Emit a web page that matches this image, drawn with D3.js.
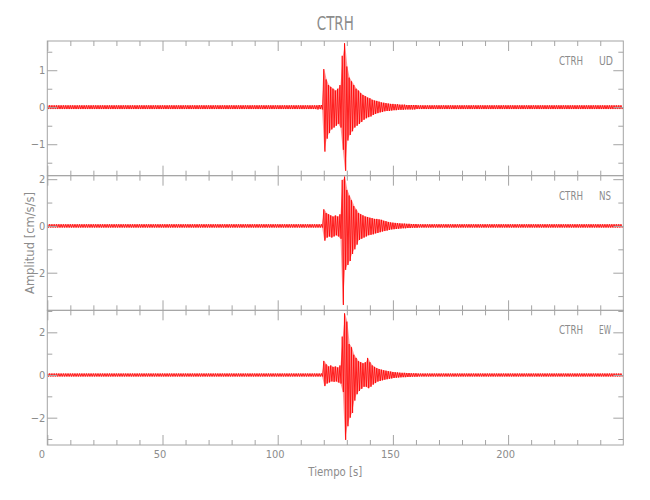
<!DOCTYPE html>
<html><head><meta charset="utf-8">
<script src="https://cdn.jsdelivr.net/npm/d3@7"></script>
<style>body{margin:0;background:#fff}</style>
</head><body><svg id="c" width="650" height="500"></svg>
<script>
// ---------------- data ----------------
const station = "CTRH";
const components = ["UD", "NS", "EW"];
const timeDomain = [0, 250];
const xMajorTicks = [0, 50, 100, 150, 200];
const xMinorTicks = [10,20,30,40,60,70,80,90,110,120,130,140,160,170,180,190,210,220,230,240];
const eventStart = 115;           // time (s) of first 1-s bin in the event window
// envelope (max / min per 1-s bin), t = 115 … 175 s
const udHi = [0.05,0.05,0.05,0.06,0.06, 1.03,0.75,0.6,0.55,0.5, 0.45,0.5,0.6,1.39,1.73, 1.1,0.8,0.7,0.6,0.5,
  0.45,0.38,0.33,0.3,0.26, 0.24,0.2,0.18,0.17,0.15, 0.13,0.12,0.11,0.1,0.09, 0.09,0.08,0.08,0.07,0.07,
  0.07,0.06,0.06,0.06,0.06, 0.06,0.05,0.05,0.05,0.05, 0.05,0.05,0.05,0.05,0.05, 0.05,0.05,0.05,0.05,0.05,0.05];
const udLo = [-0.05,-0.05,-0.06,-0.05,-0.06, -1.2,-0.85,-0.7,-0.6,-0.55, -0.5,-0.45,-0.55,-1.15,-1.72, -0.9,-0.75,-0.65,-0.55,-0.5,
  -0.45,-0.4,-0.34,-0.3,-0.27, -0.25,-0.21,-0.18,-0.16,-0.14, -0.13,-0.11,-0.1,-0.1,-0.09, -0.08,-0.08,-0.07,-0.07,-0.07,
  -0.06,-0.06,-0.06,-0.06,-0.06, -0.05,-0.05,-0.05,-0.05,-0.05, -0.05,-0.05,-0.05,-0.05,-0.05, -0.05,-0.05,-0.05,-0.05,-0.05,-0.05];
const nsHi = [0.07,0.07,0.07,0.07,0.07, 0.71,0.55,0.5,0.45,0.4, 0.45,0.4,0.5,1.97,2.11, 1.54,1.3,1.1,0.85,0.7,
  0.55,0.5,0.45,0.4,0.38, 0.35,0.33,0.3,0.3,0.28, 0.26,0.22,0.2,0.17,0.15, 0.14,0.13,0.12,0.11,0.1,
  0.1,0.09,0.09,0.08,0.08, 0.08,0.07,0.07,0.07,0.07, 0.07,0.07,0.07,0.07,0.07, 0.07,0.07,0.07,0.07,0.07,0.07];
const nsLo = [-0.07,-0.07,-0.07,-0.07,-0.07, -0.63,-0.5,-0.45,-0.5,-0.45, -0.4,-0.45,-0.55,-3.38,-1.88, -1.67,-1.5,-1.2,-1.0,-0.8,
  -0.6,-0.55,-0.5,-0.45,-0.4, -0.38,-0.36,-0.32,-0.3,-0.27, -0.24,-0.22,-0.2,-0.17,-0.15, -0.14,-0.13,-0.12,-0.11,-0.1,
  -0.1,-0.09,-0.09,-0.08,-0.08, -0.08,-0.07,-0.07,-0.07,-0.07, -0.07,-0.07,-0.07,-0.07,-0.07, -0.07,-0.07,-0.07,-0.07,-0.07,-0.07];
const ewHi = [0.07,0.07,0.07,0.07,0.07, 0.66,0.5,0.4,0.45,0.38, 0.4,0.35,0.45,1.8,2.89, 2.5,1.45,1.3,0.95,0.8,
  0.65,0.6,0.55,0.6,0.8, 0.6,0.45,0.38,0.32,0.28, 0.25,0.22,0.2,0.18,0.16, 0.14,0.13,0.12,0.11,0.1,
  0.1,0.09,0.09,0.08,0.08, 0.08,0.07,0.07,0.07,0.07, 0.07,0.07,0.07,0.07,0.07, 0.07,0.07,0.07,0.07,0.07,0.07];
const ewLo = [-0.07,-0.07,-0.07,-0.07,-0.07, -0.52,-0.4,-0.35,-0.3,-0.32, -0.3,-0.35,-0.4,-0.8,-3.04, -2.4,-2.0,-1.78,-1.2,-0.9,
  -0.75,-0.65,-0.55,-0.55,-0.62, -0.55,-0.45,-0.38,-0.31,-0.28, -0.25,-0.22,-0.2,-0.18,-0.16, -0.14,-0.13,-0.12,-0.11,-0.1,
  -0.1,-0.09,-0.09,-0.08,-0.08, -0.08,-0.07,-0.07,-0.07,-0.07, -0.07,-0.07,-0.07,-0.07,-0.07, -0.07,-0.07,-0.07,-0.07,-0.07,-0.07];
const noiseLevel = [0.05, 0.07, 0.07];   // background amplitude outside the event window
const yDomains = [[-1.85, 1.79], [-3.61, 2.15], [-3.28, 3.03]];
const yMajorTicks = [[-1, 0, 1], [-2, 0, 2], [-2, 0, 2]];
const yMinorTicks = [[-1.5, -0.5, 0.5, 1.5], [-3, -1, 1], [-3, -1, 1, 3]];
const title = "CTRH";
const xLabel = "Tiempo [s]";
const yLabel = "Amplitud [cm/s/s]";

const hiSeries = [udHi, nsHi, ewHi];
const loSeries = [udLo, nsLo, ewLo];

// ---------------- layout ----------------
const svg = d3.select("#c");
const mLeft = 47.3, mRight = 623.3, mTop = 41, mBottom = 445;
const panelH = (mBottom - mTop) / 3;
const axisColor = "#a4a4a4", textColor = "#8c8c8c";
const font = "'Liberation Sans Narrow','DejaVu Sans Condensed','Liberation Sans',sans-serif";

const x = d3.scaleLinear().domain(timeDomain).range([mLeft, mRight]);

svg.append("text").attr("x", (mLeft + mRight) / 2).attr("y", 30)
  .attr("text-anchor", "middle").attr("font-family", font).attr("font-size", 20)
  .attr("textLength", 37).attr("lengthAdjust", "spacingAndGlyphs")
  .attr("fill", textColor).text(title);

svg.append("text").attr("x", (mLeft + mRight) / 2).attr("y", 476)
  .attr("text-anchor", "middle").attr("font-family", font).attr("font-size", 13)
  .attr("textLength", 54).attr("lengthAdjust", "spacingAndGlyphs")
  .attr("fill", textColor).text(xLabel);

svg.append("text").attr("transform", `translate(34,${(mTop + mBottom) / 2}) rotate(-90)`)
  .attr("text-anchor", "middle").attr("font-family", font).attr("font-size", 13)
  .attr("textLength", 102).attr("lengthAdjust", "spacingAndGlyphs")
  .attr("fill", textColor).text(yLabel);

function styleAxis(g) {
  g.select(".domain").remove();
  g.selectAll("line").attr("stroke", axisColor).attr("stroke-width", 1);
  g.selectAll("text").attr("fill", textColor).attr("font-family", font).attr("font-size", 11);
}

components.forEach((comp, i) => {
  const y0 = mTop + i * panelH, y1 = y0 + panelH;
  const y = d3.scaleLinear().domain(yDomains[i]).range([y1, y0]);
  const g = svg.append("g");

  // min/max envelope per 1-s bin
  const bins = [];
  for (let t = timeDomain[0]; t < timeDomain[1]; t++) {
    const k = t - eventStart;
    if (k >= 0 && k < hiSeries[i].length) bins.push({ t, hi: hiSeries[i][k], lo: loSeries[i][k] });
    else bins.push({ t, hi: noiseLevel[i], lo: -noiseLevel[i] });
  }
  const pts = [];
  bins.forEach(b => { pts.push([b.t, b.hi], [b.t + 0.5, b.lo]); });
  pts.push([timeDomain[1], 0]);

  const clipId = "clip" + i;
  svg.append("clipPath").attr("id", clipId).append("rect")
    .attr("x", mLeft).attr("y", y0).attr("width", mRight - mLeft).attr("height", panelH);

  const trace = g.append("g").attr("clip-path", `url(#${clipId})`);
  trace.append("path").datum(bins)
    .attr("fill", "#ff0000").attr("fill-opacity", 0.4).attr("stroke", "none")
    .attr("d", d3.area().x(d => x(d.t + 0.25)).y0(d => y(d.lo)).y1(d => y(d.hi)));
  trace.append("path").datum(pts)
    .attr("fill", "none").attr("stroke", "#ff0000").attr("stroke-width", 0.8)
    .attr("d", d3.line().x(d => x(d[0])).y(d => y(d[1])));

  // frame
  g.append("rect").attr("x", mLeft).attr("y", y0).attr("width", mRight - mLeft).attr("height", panelH)
    .attr("fill", "none").attr("stroke", axisColor).attr("stroke-width", 1);

  // left axis
  g.append("g").attr("transform", `translate(${mLeft},0)`)
    .call(d3.axisLeft(y).tickValues(yMajorTicks[i]).tickSize(-10).tickPadding(2)
      .tickFormat(d => d < 0 ? "\u2212" + Math.abs(d) : d)).call(styleAxis);
  g.append("g").attr("transform", `translate(${mLeft},0)`)
    .call(d3.axisLeft(y).tickValues(yMinorTicks[i]).tickSize(-5).tickFormat("")).call(styleAxis);
  // right axis
  g.append("g").attr("transform", `translate(${mRight},0)`)
    .call(d3.axisRight(y).tickValues(yMajorTicks[i]).tickSize(-10).tickFormat("")).call(styleAxis);
  g.append("g").attr("transform", `translate(${mRight},0)`)
    .call(d3.axisRight(y).tickValues(yMinorTicks[i]).tickSize(-5).tickFormat("")).call(styleAxis);
  // top axis
  g.append("g").attr("transform", `translate(0,${y0})`)
    .call(d3.axisTop(x).tickValues(xMajorTicks).tickSize(-10).tickFormat("")).call(styleAxis);
  g.append("g").attr("transform", `translate(0,${y0})`)
    .call(d3.axisTop(x).tickValues(xMinorTicks).tickSize(-5).tickFormat("")).call(styleAxis);
  // bottom axis
  const isLast = i === components.length - 1;
  const bx = g.append("g").attr("transform", `translate(0,${y1})`)
    .call(d3.axisBottom(x).tickValues(xMajorTicks).tickSize(-10).tickPadding(5)
      .tickFormat(isLast ? d3.format("d") : "")).call(styleAxis);
  bx.selectAll("text").attr("dx", d => d === 0 ? -6 : -3);
  g.append("g").attr("transform", `translate(0,${y1})`)
    .call(d3.axisBottom(x).tickValues(xMinorTicks).tickSize(-5).tickFormat("")).call(styleAxis);

  // station / component label
  g.append("text").attr("x", 559).attr("y", y0 + 24).attr("font-family", font).attr("font-size", 13)
    .attr("textLength", 24).attr("lengthAdjust", "spacingAndGlyphs")
    .attr("fill", textColor).text(station);
  g.append("text").attr("x", 599).attr("y", y0 + 24).attr("font-family", font).attr("font-size", 13)
    .attr("textLength", comp === "UD" ? 14 : 12).attr("lengthAdjust", "spacingAndGlyphs")
    .attr("fill", textColor).text(comp);
});
</script>
</body></html>
